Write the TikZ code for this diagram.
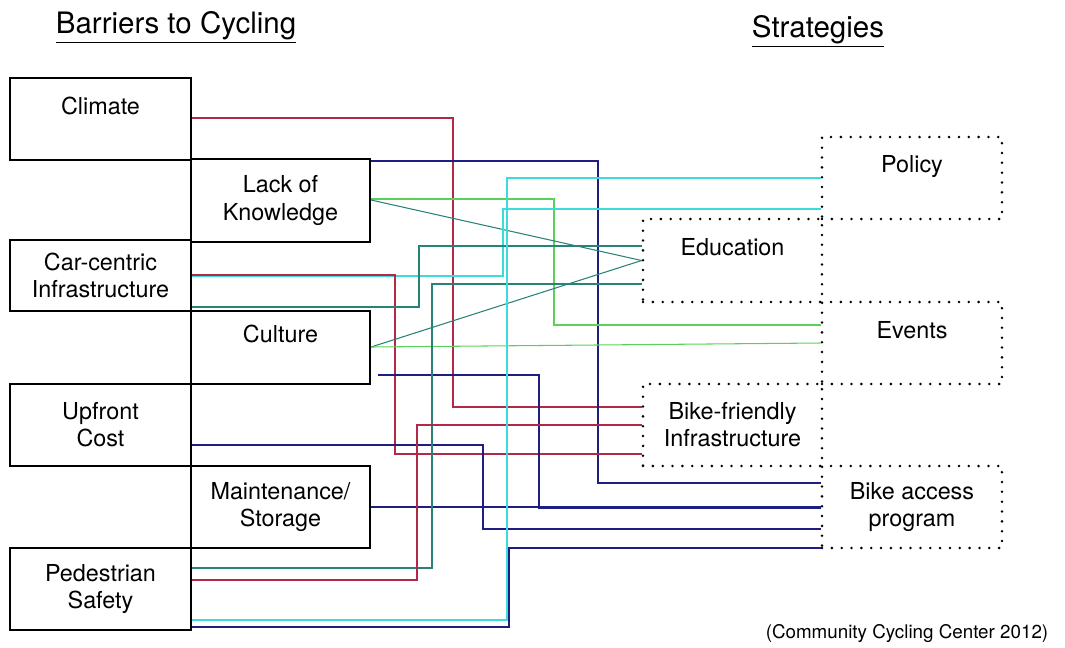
\documentclass[tikz,border=0pt]{standalone}
\usepackage{fontspec}
\setmainfont{TeX Gyre Heros}
\usetikzlibrary{calc}
\definecolor{redln}{RGB}{178,40,70}
\definecolor{navyln}{RGB}{30,30,130}
\definecolor{tealln}{RGB}{40,130,120}
\definecolor{cyanln}{RGB}{60,220,220}
\definecolor{greenln}{RGB}{90,210,90}

\begin{document}
\begin{tikzpicture}[x=0.02cm,y=-0.02cm,
	barrier/.style={draw,line width=1.2pt,align=center,inner sep=0pt,font=\fontsize{13.3}{15.4}\selectfont},
	strategy/.style={draw,dash pattern=on 0pt off 5.6pt,line cap=round,line width=1.6pt,align=center,inner sep=0pt,font=\fontsize{13.3}{15.4}\selectfont},
	link/.style={line width=0.6pt}]
			\useasboundingbox (0,0) rectangle (1065,647);
			%titres
			\node[font=\fontsize{16.8}{18}\selectfont] (tb) at (176,27) {\underline{Barriers to Cycling}};
			\node[font=\fontsize{16.8}{18}\selectfont] (ts) at (818,31) {\underline{Strategies}};
			\node[font=\fontsize{10.7}{12}\selectfont] (src) at (907,634) {(Community Cycling Center 2012)};
			%obstacles
			\node[barrier,minimum width=3.62cm,minimum height=1.64cm] (clim) at (100.5,119) {Climate\\~};
			\node[barrier,minimum width=3.58cm,minimum height=1.66cm] (lack) at (280.5,200.5) {Lack of\\Knowledge};
			\node[barrier,minimum width=3.62cm,minimum height=1.42cm] (car) at (100.5,275.5) {Car-centric\\Infrastructure};
			\node[barrier,minimum width=3.58cm,minimum height=1.46cm] (cult) at (280.5,347.5) {Culture\\~};
			\node[barrier,minimum width=3.62cm,minimum height=1.64cm] (cost) at (100.5,425) {Upfront\\Cost};
			\node[barrier,minimum width=3.58cm,minimum height=1.64cm] (maint) at (280.5,507) {Maintenance/\\Storage};
			\node[barrier,minimum width=3.62cm,minimum height=1.64cm] (ped) at (100.5,589) {Pedestrian\\Safety};
			%strategies
			\node[strategy,minimum width=3.6cm,minimum height=1.64cm] (pol) at (912,178) {Policy\\~};
			\node[strategy,minimum width=3.58cm,minimum height=1.66cm] (edu) at (732.5,260.5) {Education\\~};
			\node[strategy,minimum width=3.6cm,minimum height=1.64cm] (evt) at (912,343) {Events\\~};
			\node[strategy,minimum width=3.58cm,minimum height=1.64cm] (bfi) at (732.5,425) {Bike-friendly\\Infrastructure};
			\node[strategy,minimum width=3.6cm,minimum height=1.64cm] (bap) at (912,507) {Bike access\\program};
			%liens
			\draw[link,redln] (clim.east |- 0,118) -| (453,407) -- (bfi.west |- 0,407);
			\draw[link,navyln] (lack.east |- 0,161) -| (598,483) -- (bap.west |- 0,483);
			\draw[link,greenln] (lack.east |- 0,199) -| (554,325) -- (evt.west |- 0,325);
			\draw[link,tealln] (lack.east |- 0,200) -- (edu.west);
			\draw[link,cyanln] (car.east |- 0,276) -| (503,209) -- (pol.west |- 0,209);
			\draw[link,redln] (car.east |- 0,275) -| (395,454) -- (bfi.west |- 0,454);
			\draw[link,tealln] (car.east |- 0,307) -| (419,246) -- (edu.west |- 0,246);
			\draw[link,tealln] (cult.east |- 0,347) -- (edu.west);
			\draw[link,greenln] (cult.east |- 0,347) -- (evt.west |- 0,343);
			\draw[link,navyln,shorten <=0.14cm] (cult.east |- 0,375) -| (539,508) -- (bap.west |- 0,508);
			\draw[link,navyln] (cost.east |- 0,445) -| (483,529) -- (bap.west |- 0,529);
			\draw[link,navyln] (maint.east |- 0,507) -- (bap.west |- 0,507);
			\draw[link,tealln] (ped.east |- 0,568) -| (432,284) -- (edu.west |- 0,284);
			\draw[link,redln] (ped.east |- 0,580) -| (417,425) -- (bfi.west |- 0,425);
			\draw[link,cyanln] (ped.east |- 0,620) -| (507,178) -- (pol.west |- 0,178);
			\draw[link,navyln] (ped.east |- 0,627) -| (509,548) -- (bap.west |- 0,548);
\end{tikzpicture}
\end{document}
